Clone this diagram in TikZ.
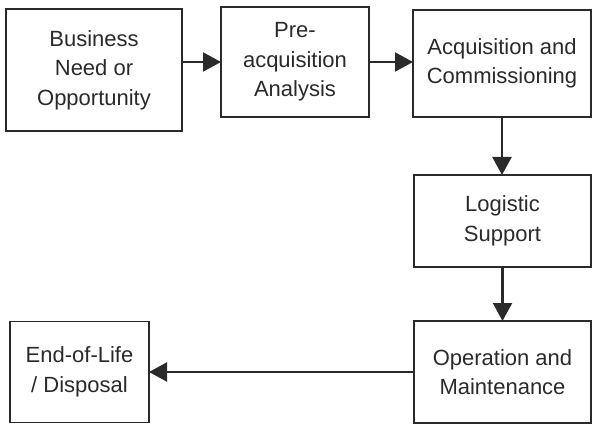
\documentclass[tikz,border=0pt]{standalone}
\usepackage{fontspec}
\setmainfont{Liberation Sans}
\usetikzlibrary{arrows.meta}
\definecolor{ink}{HTML}{2A2A2A}
\begin{document}
\begin{tikzpicture}[x=1pt,y=-1pt,
  stage/.style={draw=ink, line width=1.8pt, text=ink, align=center,
    inner sep=0pt, outer sep=0pt,
    font=\fontsize{22}{29.5}\selectfont},
  flow/.style={draw=ink, line width=2.2pt,
    -{Triangle[length=18pt,width=19pt]}}]
  \useasboundingbox (0,0) rectangle (592,425);

  % life-cycle stages
  \node[stage, minimum width=176pt, minimum height=122pt] (need) at (94,70)
    {Business\\Need or\\Opportunity};
  \node[stage, minimum width=148pt, minimum height=110pt] (pre) at (295,62)
    {Pre-\\acquisition\\Analysis};
  \node[stage, minimum width=178pt, minimum height=107pt] (acq) at (502,63.5)
    {Acquisition and\\Commissioning};
  \node[stage, minimum width=177pt, minimum height=92pt] (log) at (502.5,221)
    {Logistic\\Support};
  \node[stage, minimum width=177pt, minimum height=102pt] (ops) at (502.5,372)
    {Operation and\\Maintenance};
  \node[stage, minimum width=139pt, minimum height=101pt] (eol) at (79.5,372)
    {End-of-Life\\/ Disposal};

  % transitions between stages
  \draw[flow] (need.east |- pre.west) -- (pre.west);
  \draw[flow] (pre.east) -- (acq.west |- pre.east);
  \draw[flow] (acq.south) -- (acq.south |- log.north);
  \draw[flow] (log.south) -- (log.south |- ops.north);
  \draw[flow] (ops.west) -- (eol.east);
\end{tikzpicture}
\end{document}
